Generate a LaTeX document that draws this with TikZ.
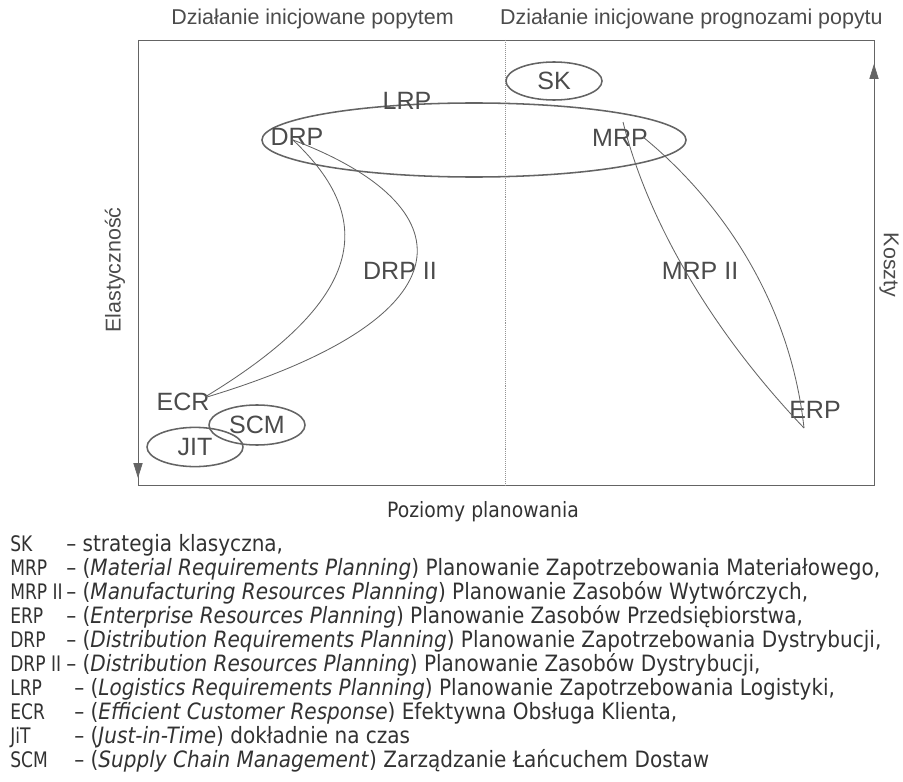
\documentclass[tikz,border=0pt]{standalone}
\usepackage{fontspec}
\setmainfont{Liberation Sans}
\newfontfamily\legendfont[FakeStretch=0.89]{DejaVu Sans}
\newfontfamily\abbrfont[FakeStretch=0.8]{DejaVu Sans}
\usepackage{xcolor}
\usetikzlibrary{arrows.meta,shapes.geometric,positioning}
\definecolor{linegray}{RGB}{100,100,100}
\definecolor{textgray}{RGB}{75,75,75}
\definecolor{legendgray}{RGB}{50,50,50}

\begin{document}
\begin{tikzpicture}[
        x=0.025cm, y=-0.025cm,
        >={Triangle[length=10.5pt,width=6.5pt]},
        lbl/.style={text=textgray, inner sep=0pt, font=\fontsize{17.8}{20}\selectfont},
        oval/.style={draw=linegray, line width=1.1pt, ellipse, inner sep=0pt, text=textgray, font=\fontsize{17.8}{20}\selectfont},
        axislbl/.style={text=textgray, inner sep=0pt, font=\fontsize{15.25}{18}\selectfont},
        link/.style={draw=linegray, line width=0.6pt},
        legendtxt/.style={text=legendgray, inner sep=0pt, anchor=base west, font=\legendfont\fontsize{16}{19}\selectfont},
        abbrtxt/.style={legendtxt, font=\abbrfont\fontsize{15.2}{19}\selectfont}
        ]
    \useasboundingbox (0,0) rectangle (903,782);

    % Frame
    \coordinate (tl) at (138,40);
    \coordinate (br) at (874,485);
    \coordinate (down) at (138,478);
    \coordinate (up) at (874,64);
    \coordinate (midtop) at (505,40);
    \coordinate (midbot) at (505,485);
    \draw[linegray, line width=0.5pt] (tl) rectangle (br);
    \draw[linegray!70, densely dotted, line width=0.4pt] (midtop) -- (midbot);
    \draw[->, linegray, line width=0.5pt] (tl) -- (down);
    \draw[->, linegray, line width=0.5pt] (br) -- (up);

    % Nodes
    \node[axislbl, anchor=base west] (demand) at (171,25) {Działanie inicjowane popytem};
    \node[axislbl, anchor=base east] (forecast) at (883,25) {Działanie inicjowane prognozami popytu};
    \node[axislbl, rotate=90] (flex) at (115,270) {Elastyczność};
    \node[axislbl, rotate=-90] (cost) at (889,265) {Koszty};
    \node[legendtxt, anchor=base, font=\legendfont\fontsize{15}{18}\selectfont] (levels) at (483,517) {Poziomy planowania};

    \node[oval, minimum width=2.4cm, minimum height=0.95cm] (sk) at (554,81) {SK};
    \node[oval, minimum width=10.6cm, minimum height=1.85cm] (lrp) at (474,140) {};
    \node[lbl] (lrptxt) at (407,101) {LRP};
    \node[lbl] (drp) at (297,137) {DRP};
    \node[lbl] (mrp) at (620,138) {MRP};
    \node[lbl] (drp2) at (400,271) {DRP II};
    \node[lbl] (mrp2) at (700,271) {MRP II};
    \node[lbl] (ecr) at (183,402) {ECR};
    \node[lbl] (erp) at (815,410) {ERP};
    \node[oval, minimum width=2.4cm, minimum height=1cm] (scm) at (257,425) {SCM};
    \node[oval, minimum width=2.4cm, minimum height=0.98cm] (jit) at (195,447) {JIT};

    \coordinate (drpA) at (293,140);
    \coordinate (ecrA) at (205,397);
    \coordinate (ecrB) at (207,397);
    \coordinate (mrpA) at (623,122);
    \coordinate (mrpB) at (643,137);
    \coordinate (erpA) at (804,428);

    % Edges
    \draw[link] (drpA) .. controls (378,220) and (365,300) .. (ecrA);
    \draw[link] (drpA) .. controls (465,205) and (478,315) .. (ecrB);
    \draw[link] (mrpA) .. controls (650,230) and (720,340) .. (erpA);
    \draw[link] (mrpB) .. controls (720,200) and (790,300) .. (erpA);

    % Legend
    \node[abbrtxt] (k1) at (10,551) {SK};
    \node[legendtxt] (d1) at (66,551) {– strategia klasyczna,};
    \node[abbrtxt] (k2) at (10,575) {MRP};
    \node[legendtxt] (d2) at (66,575) {– (\textit{Material Requirements Planning}) Planowanie Zapotrzebowania Materiałowego,};
    \node[abbrtxt] (k3) at (10,599) {MRP II};
    \node[legendtxt] (d3) at (66,599) {– (\textit{Manufacturing Resources Planning}) Planowanie Zasobów Wytwórczych,};
    \node[abbrtxt] (k4) at (10,623) {ERP};
    \node[legendtxt] (d4) at (66,623) {– (\textit{Enterprise Resources Planning}) Planowanie Zasobów Przedsiębiorstwa,};
    \node[abbrtxt] (k5) at (10,647) {DRP};
    \node[legendtxt] (d5) at (66,647) {– (\textit{Distribution Requirements Planning}) Planowanie Zapotrzebowania Dystrybucji,};
    \node[abbrtxt] (k6) at (10,671) {DRP II};
    \node[legendtxt] (d6) at (66,671) {– (\textit{Distribution Resources Planning}) Planowanie Zasobów Dystrybucji,};
    \node[abbrtxt] (k7) at (10,695) {LRP};
    \node[legendtxt] (d7) at (74,695) {– (\textit{Logistics Requirements Planning}) Planowanie Zapotrzebowania Logistyki,};
    \node[abbrtxt] (k8) at (10,719) {ECR};
    \node[legendtxt] (d8) at (74,719) {– (\textit{Efficient Customer Response}) Efektywna Obsługa Klienta,};
    \node[abbrtxt] (k9) at (10,743) {JiT};
    \node[legendtxt] (d9) at (74,743) {– (\textit{Just-in-Time}) dokładnie na czas};
    \node[abbrtxt] (k10) at (10,767) {SCM};
    \node[legendtxt] (d10) at (74,767) {– (\textit{Supply Chain Management}) Zarządzanie Łańcuchem Dostaw};

\end{tikzpicture}
\end{document}
